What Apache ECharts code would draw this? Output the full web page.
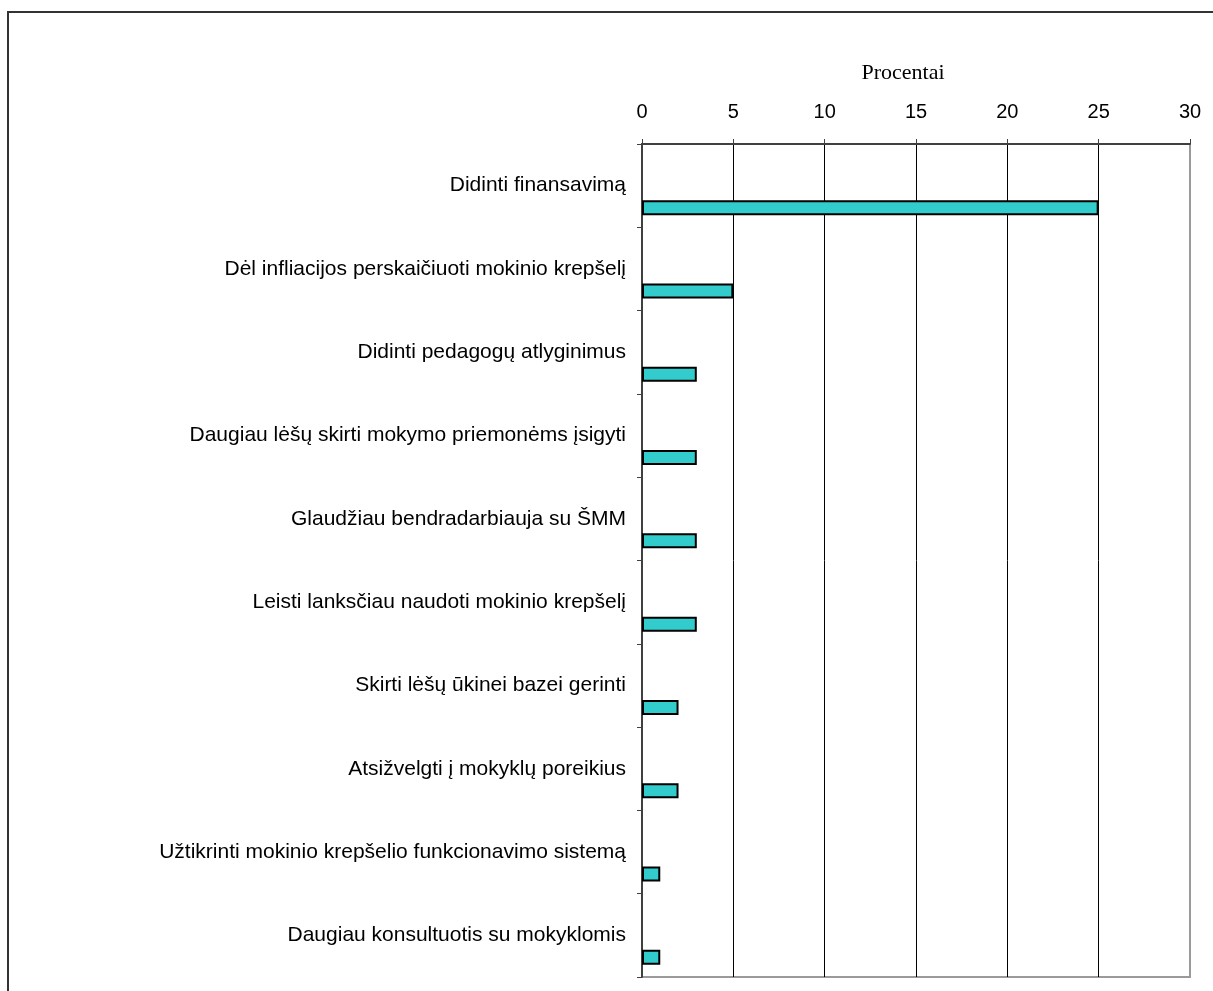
<!DOCTYPE html>
<html>
<head>
<meta charset="utf-8">
<script src="https://cdn.jsdelivr.net/npm/echarts@6/dist/echarts.min.js"></script>
<style>
html,body{margin:0;padding:0;background:#fff;}
#chart{width:1213px;height:991px;}
</style>
</head>
<body>
<div id="chart"></div>
<script>
const categories = [
  'Didinti finansavimą',
  'Dėl infliacijos perskaičiuoti mokinio krepšelį',
  'Didinti pedagogų atlyginimus',
  'Daugiau lėšų skirti mokymo priemonėms įsigyti',
  'Glaudžiau bendradarbiauja su ŠMM',
  'Leisti lanksčiau naudoti mokinio krepšelį',
  'Skirti lėšų ūkinei bazei gerinti',
  'Atsižvelgti į mokyklų poreikius',
  'Užtikrinti mokinio krepšelio funkcionavimo sistemą',
  'Daugiau konsultuotis su mokyklomis'
];
const values = [25, 5, 3, 3, 3, 3, 2, 2, 1, 1];
const axisTitle = 'Procentai';
const xMin = 0, xMax = 30, xStep = 5;

const chart = echarts.init(document.getElementById('chart'));
chart.setOption({
  animation: false,
  backgroundColor: '#fff',
  graphic: [{
    type: 'rect',
    shape: { x: 8, y: 12, width: 1300, height: 1100 },
    style: { fill: 'none', stroke: '#333', lineWidth: 2 },
    silent: true
  }, {
    type: 'text',
    x: 903, y: 73,
    style: {
      text: axisTitle, align: 'center', verticalAlign: 'middle',
      font: '22px "Liberation Serif"', fill: '#000'
    },
    silent: true
  }],
  grid: {
    left: 642, top: 144, width: 548, height: 833,
    show: true, borderColor: '#9a9a9a', borderWidth: 2, backgroundColor: 'transparent'
  },
  xAxis: {
    type: 'value', position: 'top', min: xMin, max: xMax, interval: xStep,
    axisLine: { show: true, lineStyle: { color: '#404040', width: 2 } },
    axisTick: { show: true, length: 5, lineStyle: { color: '#404040', width: 1 } },
    axisLabel: { margin: 22, fontFamily: 'Liberation Sans', fontSize: 20, color: '#000' },
    splitLine: { show: true, showMinLine: false, showMaxLine: false, lineStyle: { color: '#000', width: 1 } }
  },
  yAxis: {
    type: 'category', data: categories, inverse: true,
    axisLine: { show: true, lineStyle: { color: '#404040', width: 2 } },
    axisTick: { show: true, length: 5, lineStyle: { color: '#404040', width: 1 } },
    axisLabel: { margin: 16, padding: [6, 0, 0, 0], fontFamily: 'Liberation Sans', fontSize: 21, color: '#000' },
    splitLine: { show: false }
  },
  series: [
    {
      type: 'bar', name: 'spacer', data: categories.map(() => '-'),
      barWidth: 15, barGap: '193%', silent: true,
      itemStyle: { color: 'transparent' }
    },
    {
      type: 'bar', name: 'Procentai', data: values,
      barWidth: 15, barGap: '193%',
      itemStyle: { color: '#33CCCC', borderColor: '#000', borderWidth: 2 }
    }
  ]
});
</script>
</body>
</html>
